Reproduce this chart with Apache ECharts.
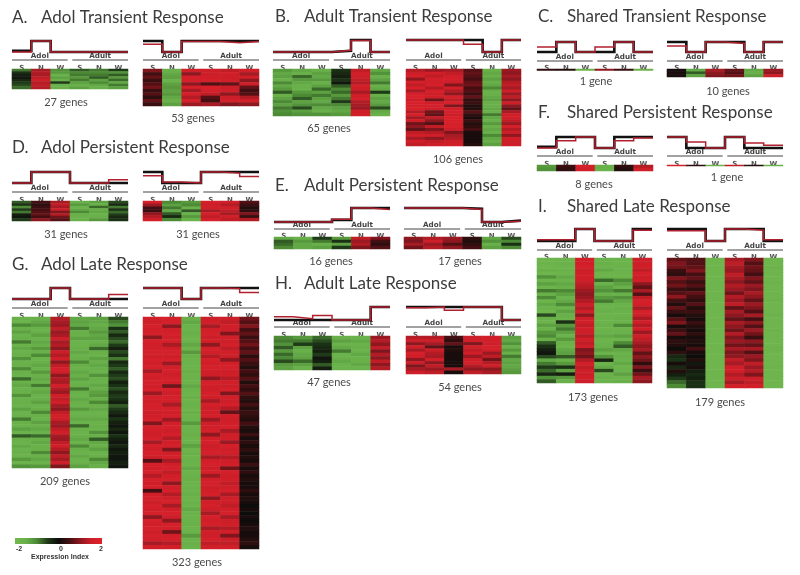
<!DOCTYPE html>
<html><head><meta charset="utf-8">
<style>html,body{margin:0;padding:0;background:#fff}#c{width:800px;height:575px;filter:blur(.3px)}</style>
<script src="https://cdn.jsdelivr.net/npm/echarts@6/dist/echarts.min.js"></script>
</head><body><div id="c"></div>
<script>
const conditions=['S','N','W','S','N','W'];
const titles=[['A.','Adol Transient Response'],['B.','Adult Transient Response'],['C.','Shared Transient Response'],['D.','Adol Persistent Response'],['E.','Adult Persistent Response'],['F.','Shared Persistent Response'],['G.','Adol Late Response'],['H.','Adult Late Response'],['I.','Shared Late Response']];
// expression index per gene cluster row: Adol S,N,W, Adult S,N,W
const heatA1=[[-.9,1.2,-1.1,-.7,-.9,-.5],[-.4,1.3,-1.2,-1,-1,-1.1],[-.2,1.2,-1.6,-.9,-.9,-.7],[-.1,1.4,-1.3,-1.2,-.7,-1.2],[-.3,1.5,-1.5,-.9,-1.3,-.8],[-.5,1.3,-.5,-1.3,-1,-1.4],[-.6,1.4,-1.6,-1.5,-1.4,-.9],[-.8,1.3,-1.5,-1.3,-1.5,-1.3]];
const heatA2=[[.9,-1.5,1.6,1.5,1.4,1.6],[.5,-1.4,1,1.5,1.6,1.2],[.7,-1.3,1.7,1.6,1.5,1.5],[.4,-1.6,1.7,1.7,1.6,1],[.6,-1.3,1,.6,.7,1.5],[.8,-1.2,1.7,1.8,1.5,.7],[.4,-1.3,1.2,1.7,1.6,.5],[.6,-1.2,1.7,1.4,1,.6],[.3,-1.4,1.3,.6,1.5,1.3],[.7,-1.5,1.7,.5,1.6,1.6],[.4,-1.3,1.1,1.2,.9,1]];
const heatB1=[[-1.2,-1.4,-1.5,-.4,1.4,-1.4],[-1.4,-1.5,-1.3,-.3,1.6,-1.1],[-1.3,-.8,-1.4,-.2,1.5,-1.5],[-1.5,-1.2,-1.2,-.4,1.4,-1.3],[-1,-1.4,-1.5,-.1,1.3,-.9],[-1.4,-1.5,-1.3,-.7,1.7,-1.5],[-1.2,-1.6,-.8,-1,1.5,-1.4],[-.7,-1.2,-1.3,-.8,1.2,-.5],[-1.5,-1,-.9,-1.2,1.6,-1.5],[-1.3,-.7,-1.3,-.9,1.7,-1.3],[-1,-1.3,-1.4,-.5,1.3,-1.4],[-1.3,-1.1,-1,-1,1.2,-1.2],[-.9,-.6,-1.4,-1.3,1.1,-.6],[-1.1,-1.3,-1.5,-1.4,1.5,-1.4],[-1,-1.1,-1.1,-1.2,1.6,-1.5]];
const heatB2=[[1.3,1.1,1.2,.6,-1.5,1.1],[1.5,1.6,1.4,.7,-1.4,1],[1.7,1.4,1.6,.6,-1.5,1.2],[1,1.7,1.7,.5,-1.3,1],[1.7,1.6,1.5,.7,-1.5,1.3],[1.4,1.7,.9,.8,-1.4,1.4],[1.8,1.3,1.6,.5,-1,1.2],[1.2,1.7,1.3,.6,-1.5,1.5],[1.7,1.5,1,.4,-1.5,1.1],[1.8,1.6,1.7,.7,-1.4,1.4],[1.5,.8,1.4,.3,-1.3,1],[1.8,1.6,1.7,.4,-1.5,1.5],[1.7,1.7,.9,.2,-1.5,1],[1.8,1.5,1.6,.2,-1.4,.7],[1.3,.8,1.7,.6,-1.5,1.2],[1.7,.7,1.5,.3,-.9,1.6],[1.2,1.4,1.8,.1,-1.4,1.6],[1.5,1,1.8,.4,-1.5,1.4],[.8,.6,1.7,.2,-1.2,1.1],[1,1.4,1.8,.3,-1.5,1.7],[.7,.9,1.5,.5,-1.4,1.3],[1.4,1.3,.9,.1,-1.5,1.5],[1.6,1.6,1.2,.1,-1,1],[1.2,1,1.3,.1,-1.4,1.6],[1.6,1.4,1.5,.1,-1.5,1.5],[1.4,1.5,1.6,.2,-1.3,1.5]];
const heatC1=[[.3,.2,-1.7,1,.4,-1.7]];
const heatC2=[[.1,-1.4,1.2,.7,-1.4,1.1],[.1,-.7,1,.6,-1.5,1],[.1,-1.3,.9,.8,-1.3,1.5]];
const heatF1=[[-1.2,.4,1.7,-1.5,.3,1.3],[-1.1,.3,1.6,-1.6,.2,1.5]];
const heatF2=[[1.7,.3,-1.7,1.4,.2,-1.6]];
const heatD1=[[-.7,.5,1.2,-1.5,-1.3,-.6],[-.4,.3,1.4,-1.2,-1.5,-.3],[-1,.4,1.2,-1.6,-.8,-.9],[-.5,.5,1.5,-1.4,-1.5,-.4],[-.9,.6,.9,-1,-1.4,-.8],[-.2,.7,1.3,-1.5,-1.6,-.5],[-.1,.5,.8,-1.6,-1.5,-.3],[-.5,1,.6,-1.5,-1.2,-.4]];
const heatD2=[[1.7,-1,-1.2,1.7,1.5,.6],[1.1,-1.3,-1,1.5,1.3,.4],[.5,-.9,-1.5,1.6,1.6,.2],[.4,-1.4,-.7,1.2,1.4,.3],[1,-.7,-1.6,1.7,1.2,.9],[1.3,-.3,-1.2,1.4,1.6,.4],[1.6,-1,-1.6,1.7,1.4,1.3]];
const heatE1=[[-1.4,-1.5,-.5,-1.2,1.4,.9],[-.7,-1.2,-.9,-.4,1.1,.5],[-.8,-1.4,-1.5,-1.3,1.3,.3],[-1,-1.4,-1.3,-.5,.9,.6]];
const heatE2=[[1,1.3,1.1,.3,-1.4,-.6],[.9,1.5,1,.2,-1.1,-1],[1.2,1.1,.6,.3,-1.5,-.4],[.8,1.3,1,.5,-1.3,-1]];
const heatG1=[[-1.5,-1.5,1.3,-1.4,-1.3,-.6],[-1.6,-1.4,1.2,-1.3,-1.4,-.9],[-1,-1.2,1.1,-1.4,-1.5,-1.1],[-1.5,-1.6,1.4,-.9,-1.4,-.4],[-1.3,-1.5,1.1,-1.5,-1.2,-.7],[-1.6,-1.3,1.2,-1.5,-1.4,-.3],[-1.5,-1.6,1.5,-1.3,-1.3,-.6],[-.9,-1.4,1.2,-1.6,-1.5,-.8],[-1.6,-1.5,1.3,-1.6,-1.4,-.5],[-1.4,-1.2,1,-1.5,-.8,-.2],[-1.6,-1.5,1.5,-1.4,-1.5,-.6],[-1.5,-1,1.3,-1.6,-1.6,-.4],[-1.1,-1.6,1.6,-1.5,-1.3,-.9],[-1.6,-1.5,1,-1,-1.5,-.3],[-1.5,-1.4,1.4,-1.5,-1.4,-.5],[-1,-1.6,1.7,-1.6,-1.5,-.7],[-1.5,-1.2,1.5,-1.4,-1.6,-.3],[-1.6,-1.5,1,-1.5,-1.1,-.5],[-.8,-1.4,1.3,-1.3,-1.5,-.6],[-1.5,-1.6,1.2,-1.6,-1.6,-.2],[-1.4,-.9,1.6,-1.5,-1.4,-.4],[-1.6,-1.5,1.3,-.9,-1.5,-.6],[-1.5,-1.4,1.1,-1.5,-1.3,-.3],[-1.1,-1.6,1.6,-1.6,-1.2,-.5],[-1.6,-1.5,1.4,-1.4,-1.5,-.4],[-1.5,-1.3,1.6,-1.5,-1,-.2],[-1.6,-1.6,1.2,-1.6,-1.5,-.7],[-1.3,-1.5,1,-1.2,-1.4,-.5],[-1.6,-1,1.4,-1.6,-1.6,-.3],[-1.5,-1.5,1.6,-1.5,-1.5,-.1],[-.9,-1.6,1.5,-1.4,-1.4,-.4],[-1.5,-1.3,1.2,-1.6,-1.6,-.2],[-1.6,-1.5,1.1,-.8,-1.5,-.1],[-1.3,-1.4,1.4,-1.5,-1.6,-.3],[-1.6,-1.6,1.6,-1.6,-1.1,-.1],[-.7,-.8,1.2,-1.5,-1.5,-.4],[-1.5,-1.5,1.1,-1.4,-.7,-.2],[-1.6,-1.4,1.4,-1.6,-1.4,-.1],[-1.4,-1.6,1.6,-1,-1.5,-.3],[-1.6,-1.5,1.3,-1.5,-1.3,-.1],[-1.5,-1,1,-1.6,-1.6,-.2],[-1.6,-1.5,1.4,-1.4,-1.5,-.1],[-1.2,-1.4,1.2,-1.6,-1,-.1],[-1.6,-1.6,1.5,-1.5,-1.4,-.2],[-1.1,-1.2,.9,-1.3,-1.5,-.1]];
const heatG2=[[1.6,1.7,-1.5,1.5,1.5,.8],[1.5,1.7,-1.4,1.6,1.4,.6],[1.7,1,-1.6,1.2,1.6,.9],[1.6,1.6,-1.7,1.6,1.5,.5],[1.7,1.7,-1.5,1.7,.9,.7],[1,1.6,-1.7,1.5,1.6,.4],[1.7,1.7,-1.6,1.6,1.5,.6],[1.6,1.2,-1.4,1,1.7,.8],[1.6,1.6,-1.7,1.7,1.4,.5],[1.7,1.7,-1.2,1.6,1.6,.7],[1.5,1.5,-1.5,1.3,1.5,.3],[1.7,1.7,-1.7,1.7,1,.6],[1.6,1.1,-1.6,1.6,1.6,.4],[1.7,1.6,-1.7,1.7,1.7,.2],[1.2,1.7,-1.5,1.6,1.5,.5],[1.7,1.5,-1.7,1.5,1.6,.3],[1.6,1.7,-1.6,1,1.3,.6],[1.7,1.6,-1.7,1.7,1.6,.2],[1.6,.8,-1.4,1.6,1.5,.5],[1.7,1.7,-1.6,1.5,1.7,.3],[1.1,1.5,-1.7,1.7,.9,.6],[1.7,1.7,-1.5,1.6,1.6,.3],[1.6,1.6,-1.7,1.2,1.5,.2],[1.7,1.2,-1.6,1.7,1.7,.5],[1.7,1.7,-1.7,1.5,1.3,.2],[1.5,1.6,-1.5,1.6,.7,.4],[1.6,1.7,-1.7,1.7,1.6,.3],[1.7,1.1,-1.6,1.1,1.5,.2],[.9,1.6,-1.2,1.5,1.6,.5],[1.7,1.7,-1.7,1.6,1.7,.2],[1.6,1.5,-1.6,1.7,1.2,.1],[1.5,1.7,-1.5,1,1.5,.4],[1.7,1.3,-1.7,1.6,1.6,.1],[1.2,1.6,-1.6,1.7,1.1,.3],[1.7,1.7,-1.3,1.5,1.7,.1],[1.6,.9,-1.7,1.6,1.5,.3],[1.7,1.6,-1.5,1.7,1.6,.1],[1.5,1.7,-1.7,1.2,1.3,.2],[.6,1.2,-1.6,1.6,1.5,.1],[1.7,1.6,-1.7,1.7,1.6,.4],[1.6,1.7,-1.4,1.5,.8,.1],[1.7,1.4,-1.7,1.7,1.7,.3],[1.3,1.6,-1.6,1.1,1.5,.1],[1.7,1.7,-1.5,1.6,1.6,.2],[1.6,1,-1.7,1.7,1.4,.1],[1.7,1.6,-1.6,1.5,1.5,.1],[.5,1.7,-1.7,1.6,1.7,.3],[1.6,1.3,-1.5,1.7,1.2,.1],[1.7,1.6,-1.7,1,1.6,.2],[1.5,1.7,-1.6,1.6,1.5,.1],[1.7,1.2,-1.7,1.7,1.4,0],[1.6,1.6,-1.4,1.5,1.6,.1],[1.7,1.7,-1.6,1.2,1.7,0],[1,1.5,-1.7,1.7,1.2,.1],[1.7,1,-1.6,1.6,1.5,0],[1.6,1.7,-1.5,1.7,1.6,.1],[1.7,1.6,-1.7,1.2,1.3,.2],[1.5,.8,-1.6,1.6,1.6,.1],[1.7,1.6,-1.2,1.5,.9,.1],[1.6,1.7,-1.6,1.7,1.5,.2],[1.2,1.3,-1.5,1.4,1.4,.3],[1.6,1.6,-1.6,1.6,1.6,.1]];
const heatH1=[[-1,-1.2,-.8,-1.5,-1.6,1.1],[-.9,-.9,-.6,-1.3,-1.4,1.3],[-1.1,-.5,-.4,-1.6,-1.6,1],[-.7,-1.3,-.3,-1.4,-1.5,1.4],[-1.2,-1.5,-.2,-.9,-1.6,.9],[-.8,-1.4,-.5,-1.6,-1.4,1.3],[-1,-1.3,-.1,-1.5,-1.6,1],[-.6,-.8,-.2,-1.4,-1.5,1.4],[-1.2,-1.3,-.7,-1.6,-1.4,1],[-1.3,-1.5,-.2,-1.6,-1.6,1.3]];
const heatH2=[[1.3,1.3,.5,1.5,1.6,-1.3],[1.5,1.5,.3,1.6,1.6,-1.4],[1,1.2,.7,.9,1.5,-1.1],[1.6,.7,.1,1.6,1.7,-1.5],[1.2,1.5,.2,1.4,1.6,-1.2],[1.7,1.3,.1,1.6,1.1,-1.5],[1.6,1.2,.1,1.1,1.4,-.9],[1,1.6,.1,1.5,.8,-1.4],[1.5,1,.1,1.7,1.3,-1.3],[.9,1.4,.1,1.3,1.5,-1.4],[1.2,1.1,1.2,1,1,-1.3],[1.5,1.4,.1,1.4,1.2,-1.2]];
const heatI1=[[-1.8,-1.7,1.6,-1.6,-1.6,1.5],[-1.7,-1.6,1.6,-1.5,-1.7,1.5],[-1.8,-1.7,1.7,-1.7,-1.6,1.6],[-1.5,-1.6,1.5,-1.4,-1.6,1.4],[-1.8,-1.7,1.6,-1.7,-1.7,1.7],[-1.1,-1.4,1.6,-1.6,-1.7,1.5],[-1.7,-1.6,1.5,-.8,-1,1.6],[-1.3,-1.4,1.4,-1.6,-1.3,1],[-1.7,-1.5,1.3,-1.3,-1.5,.7],[-.9,-1,1.1,-1.1,-.9,1.2],[-1.5,-1.3,1,-1.5,-1.6,.6],[-1,-1.6,1.1,-1.2,-1.1,1.4],[-1.7,-1.4,1.3,-.9,-1.4,1.7],[-1.4,-1,1.5,-1.6,-1.6,1.6],[-1.6,-1.6,1.3,-1.7,-1.5,1.2],[-1.8,-1.3,1.6,-1.5,-1.6,1.7],[-.6,-1.5,1,-1.7,-1.7,1.5],[-1.5,-1.7,1.5,-1.6,-1.5,1.2],[-1.7,-.4,1.6,-1.7,-1.6,1.6],[-1.3,-1.2,1.4,-1.5,-1,1.3],[-1.6,-.9,1.6,-1.7,-1.7,1.6],[-1.2,-1.3,1.5,-1.6,-1.6,1.1],[-1,-1.6,1.3,-1.4,-1.3,1.5],[-1.5,-1.2,1.6,-1.7,-1.7,1.4],[-.7,-1.5,1.4,-1.6,-1,1.2],[-.4,-1.7,1.5,-1.5,-.7,1],[-.2,-1.4,.9,-1.3,-1.4,1.2],[-.1,-1.3,1,-1.6,-1.6,.7],[-.6,-.7,.8,-1.1,-1.5,1],[-1.4,-1.5,1.3,-.3,-1.6,.8],[-.9,-1.2,1.6,-1.6,-1.4,.3],[-.5,-.4,1.4,-1.4,-1.7,.9],[-.8,-1.3,1.5,-.6,-1.6,.4],[-.3,-.2,1.5,-1.7,-1.3,.8],[-1.1,-1.2,1.6,-1.5,-1.7,1.2],[-.7,-1.5,1.5,-1.6,-1.5,1]];
const heatI2=[[.7,.6,-1.8,1.2,.9,-1.8],[.9,.6,-1.8,1.4,.6,-1.8],[.8,.7,-1.8,1.2,.8,-1.7],[.4,.9,-1.8,1.1,.7,-1.8],[.3,.5,-1.8,1.4,.5,-1.8],[.9,.7,-1.8,1.2,.9,-1.8],[.6,.4,-1.8,1,.7,-1.7],[.8,.6,-1.8,1.3,1.1,-1.8],[.4,.3,-1.8,1.1,.9,-1.8],[.6,.7,-1.8,.8,1.2,-1.8],[1,.5,-1.8,1.3,1,-1.8],[.5,.3,-1.8,1.1,.7,-1.7],[.2,.6,-1.8,1.4,1.1,-1.8],[.7,.2,-1.8,.7,.9,-1.8],[.4,.4,-1.8,1.2,.6,-1.8],[.1,.2,-1.8,1,1.2,-1.7],[.6,.1,-1.8,.7,.5,-1.8],[.9,.4,-1.8,1.2,1,-1.8],[.1,.2,-1.8,1,.6,-1.8],[.4,.1,-1.8,.8,1.1,-1.7],[.7,.3,-1.8,1.3,.8,-1.8],[.1,.1,-1.8,.9,.4,-1.8],[.3,.2,-1.8,1.1,1,-1.8],[.2,.1,-1.8,.8,.7,-1.8],[0,.5,-1.8,1.2,1.2,-1.7],[.3,.1,-1.8,.9,.6,-1.8],[-.3,0,-1.8,1,1.1,-1.8],[-.4,.2,-1.8,1.4,.9,-1.8],[.1,-.1,-1.8,1.2,1.4,-1.8],[-.3,.1,-1.8,1.6,1.1,-1.7],[.2,-.2,-1.8,1.6,1.3,-1.8],[-.2,-.3,-1.8,1.3,.9,-1.8],[-.5,-.2,-1.8,1.5,1.5,-1.8],[-.8,-.4,-1.8,1.2,1.4,-1.8],[-1,-.4,-1.8,1.6,1.6,-1.8]];
const stepsBlack={A1:[.1,1,0,0,0,0],A2:[1,0,1,1,1,1],B1:[0,0,0,.1,1,0],B2:[1,1,1,1,0,1],C1:[0,1,0,0,1,0],C2:[1,0,1,1,0,1],F1:[.1,1,1,0,1,1],F2:[1,0,0,1,0,0],D1:[0,1,1,0,0,0],D2:[1,0,0,1,1,1],E1:[0,0,0,.15,1,1],E2:[1,1,1,.95,0,.1],G1:[0,0,1,0,0,0],G2:[1,1,0,1,1,1],H1:[0,0,0,0,0,1],H2:[1,1,1,1,1,0],I1:[0,0,1,0,0,1],I2:[1,1,0,1,1,0]};
const stepsRed={A1:[0,1,0,0,0,0],A2:[.7,0,.95,.95,.85,.95],B1:[0,0,0,.15,.95,0],B2:[1,1,1,.65,0,1],C1:[.5,1,0,.5,1,0],C2:[.6,0,1,.85,0,1],F1:[0,.65,1,0,.65,.9],F2:[1,.55,0,1,.45,.25],D1:[0,1,1,0,0,.3],D2:[.65,.1,0,1,.9,.6],E1:[0,0,0,.2,1,.9],E2:[1,1,1,.9,0,.05],G1:[0,0,1,0,0,.4],G2:[1,1,0,1,.95,.6],H1:[.25,.1,.35,0,0,1],H2:[.95,1,.75,1,1,0],I1:[.1,.1,1,0,0,.9],I2:[.85,.85,0,1,.9,.1]};
const geneLabels={A1:'27 genes',A2:'53 genes',B1:'65 genes',B2:'106 genes',C1:'1 gene',C2:'10 genes',F1:'8 genes',F2:'1 gene',D1:'31 genes',D2:'31 genes',E1:'16 genes',E2:'17 genes',G1:'209 genes',G2:'323 genes',H1:'47 genes',H2:'54 genes',I1:'173 genes',I2:'179 genes'};
const heat={A1:heatA1,A2:heatA2,B1:heatB1,B2:heatB2,C1:heatC1,C2:heatC2,F1:heatF1,F2:heatF2,D1:heatD1,D2:heatD2,E1:heatE1,E2:heatE2,G1:heatG1,G2:heatG2,H1:heatH1,H2:heatH2,I1:heatI1,I2:heatI2};
// layout: key,left,right,schemTop,schemBottom,headerLineY,heatTop,heatBottom,labelX,labelY
const layout=[['A1',12,128,41,52,60,69,89,66,102],['A2',143,259,41,52,60,69,106,193,118],['B1',273,390,40,52,60,69,116,329,128],['B2',406,521,40,52,60,69,146,458,159],['C1',537,653,42,52,61,69,70.5,596,81],['C2',667,783,42,52,61,69,77,728,91],['F1',537,653,137,148,156,165,171,594,184],['F2',667,783,137,148,156,165,166,727,177],['D1',12,128,172,183,192,201,221,66,234],['D2',143,259,172,183,192,201,221,198,234],['E1',274,390,208,222,229,237,249,331,261],['E2',404,521,208,222,229,237,249,460,261],['G1',12,128,288,299,308,317,468,65,481],['G2',143,259,288,299,308,317,549,197,562],['H1',274,390,307,320,327,336,370,329,382],['H2',406,521,307,320,327,336,374,460,387],['I1',537,652,229,241,250,258,383,593,397],['I2',667,783,229,241,250,258,388,720,402]];
const titlePos=[[12,41,18],[275,304,17],[538,567,17],[12,41,148],[275,304,186],[538,567,113],[12,41,265],[275,304,284],[538,567,207]];
const TXT='#3c3c3c';
const rampColors=['#70b84d','#69b04a','#4c8a36','#1f3a18','#0d0d0b','#440f12','#8e1820','#cc1f29','#e0212b'];
const grids=[],xs=[],ys=[],series=[],gfx=[];
const stepPts=lv=>lv.flatMap((v,i)=>[[i,v],[i+1,v]]);
const heatSeriesIdx=[];
layout.forEach(([k,l,r,st,sb,hl,ht,hb,lx,ly])=>{
  const w=r-l;
  let g=grids.length;
  grids.push({left:l,top:st,width:w,height:sb-st,containLabel:false});
  xs.push({gridIndex:g,type:'value',min:0,max:6,show:false});
  ys.push({gridIndex:g,type:'value',min:0,max:1,show:false});
  [['#111',2.6,stepsBlack[k]],['#b1202e',1.5,stepsRed[k]]].forEach(([c,lw,lv])=>series.push({type:'line',xAxisIndex:g,yAxisIndex:g,data:stepPts(lv),showSymbol:false,clip:false,lineStyle:{color:c,width:lw,join:'miter'},z:3,silent:true}));
  g=grids.length;
  grids.push({left:l,top:ht,width:w,height:hb-ht,containLabel:false});
  xs.push({gridIndex:g,type:'category',position:'top',data:conditions.map((c,i)=>i),splitArea:{show:false},axisLine:{show:false},axisTick:{show:false},splitLine:{show:false},
    axisLabel:{show:true,interval:0,margin:1,fontFamily:'DejaVu Sans',fontWeight:'bold',fontSize:7,color:'#555',verticalAlign:'middle',formatter:(v)=>conditions[v]}});
  const rows=heat[k];
  ys.push({gridIndex:g,type:'category',inverse:true,data:rows.map((_,i)=>i),show:false,splitArea:{show:false}});
  heatSeriesIdx.push(series.length);
  series.push({type:'heatmap',xAxisIndex:g,yAxisIndex:g,data:rows.flatMap((row,y)=>row.map((v,x)=>[x,y,v])),progressive:0,silent:true,itemStyle:{borderWidth:0}});
  const txtY=hl-3.5, mid=l+w*.48, mid2=l+w*.52;
  [[l,mid],[mid2,r]].forEach(([a,b],i)=>{
    gfx.push({type:'line',shape:{x1:a,y1:hl,x2:b,y2:hl},style:{stroke:'#444',lineWidth:1}});
    gfx.push({type:'text',x:(a+b)/2,y:txtY,style:{text:i?'Adult':'Adol',font:'bold 7.2px "DejaVu Sans"',fill:'#444',textAlign:'center',textVerticalAlign:'middle'}});
  });
  gfx.push({type:'text',x:lx,y:ly,style:{text:geneLabels[k],font:'11px Lato',fill:'#4a4a4a',textAlign:'center',textVerticalAlign:'middle'}});
});
titles.forEach(([a,t],i)=>{
  const [x1,x2,y]=titlePos[i];
  gfx.push({type:'text',x:x1,y,style:{text:a,font:'17px Lato',fill:TXT,textVerticalAlign:'middle'}});
  gfx.push({type:'text',x:x2,y,style:{text:t,font:'17px Lato',fill:TXT,textVerticalAlign:'middle'}});
});
gfx.push({type:'rect',shape:{x:15,y:538,width:87,height:6},style:{fill:new echarts.graphic.LinearGradient(0,0,1,0,rampColors.map((c,i)=>({offset:i/(rampColors.length-1),color:c})))}});
[[19,'-2'],[61,'0'],[101,'2']].forEach(([x,t])=>gfx.push({type:'text',x,y:549,style:{text:t,font:'bold 7px "Liberation Sans"',fill:'#333',textAlign:'center',textVerticalAlign:'middle'}}));
gfx.push({type:'text',x:60,y:557,style:{text:'Expression Index',font:'bold 7px "Liberation Sans"',fill:'#333',textAlign:'center',textVerticalAlign:'middle'}});
const chart=echarts.init(document.getElementById('c'),null,{renderer:'canvas'});
chart.setOption({animation:false,backgroundColor:'#fff',grid:grids,xAxis:xs,yAxis:ys,series,graphic:{elements:gfx},
  tooltip:{show:false},
  visualMap:{type:'continuous',min:-2,max:2,seriesIndex:heatSeriesIdx,show:false,inRange:{color:rampColors}}});
</script></body></html>
